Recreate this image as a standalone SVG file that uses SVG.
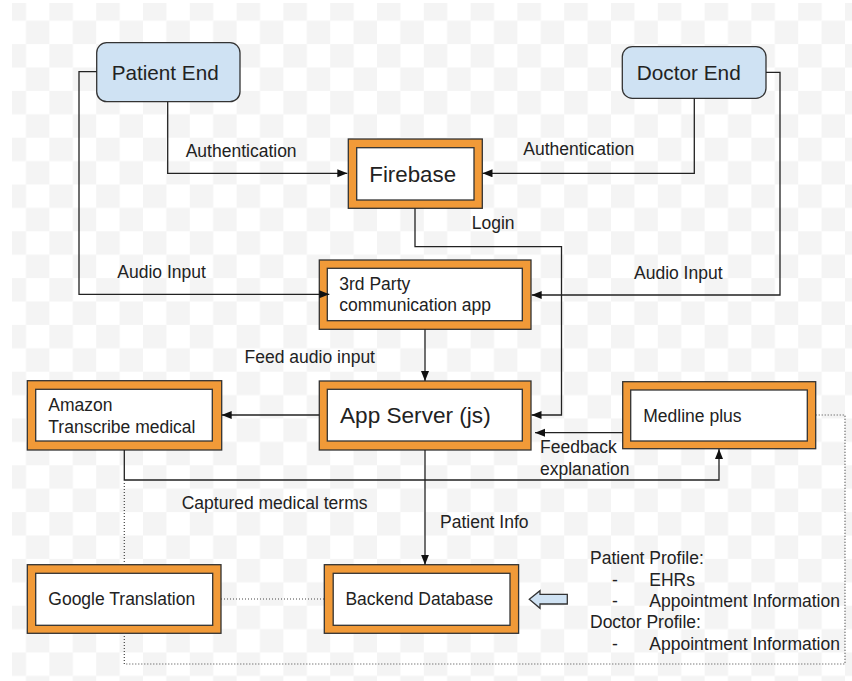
<svg xmlns="http://www.w3.org/2000/svg" width="852" height="681" viewBox="0 0 852 681">
<defs>
<style>
text{font-family:"Liberation Sans",Arial,sans-serif;fill:#222;}
.lbl{font-size:17.5px;}
.ob{fill:#f19a38;stroke:#333;stroke-width:1.3;}
.ib{fill:#fff;stroke:#333;stroke-width:1.3;}
.rb{fill:#cfe2f3;stroke:#333;stroke-width:1.3;}
.c{fill:none;stroke:#222;stroke-width:1.3;}
.d{fill:none;stroke:#444;stroke-width:1.2;stroke-dasharray:1 2;}
</style>
<pattern id="chk" patternUnits="userSpaceOnUse" x="2.6" y="-2.7" width="46.8" height="46.8">
<rect x="0" y="0" width="46.8" height="46.8" fill="#fff"/>
<rect x="0" y="0" width="23.4" height="23.4" fill="#f4f4f4"/>
<rect x="23.4" y="23.4" width="23.4" height="23.4" fill="#f4f4f4"/>
</pattern>
<marker id="ah" markerUnits="userSpaceOnUse" markerWidth="11" markerHeight="9" refX="10" refY="4" orient="auto">
<path d="M0,0 L10,4 L0,8 z" fill="#111"/>
</marker>
</defs>
<rect x="0" y="0" width="852" height="681" fill="#fff"/>
<rect x="12" y="3" width="840" height="678" fill="url(#chk)"/>

<g id="patient-end">
<rect class="rb" x="96.7" y="42.7" width="143.3" height="59" rx="10"/>
<text x="111.7" y="80" font-size="20.7">Patient End</text>
</g>
<g id="doctor-end">
<rect class="rb" x="622.3" y="46.7" width="143.7" height="51.6" rx="10"/>
<text x="636.7" y="80" font-size="20.8">Doctor End</text>
</g>
<g id="firebase">
<rect class="ob" x="348.3" y="139" width="134" height="69.3"/>
<rect class="ib" x="356.7" y="147.7" width="117.3" height="52.3"/>
<text x="369.3" y="182.3" font-size="22.3">Firebase</text>
</g>
<g id="third-party-app">
<rect class="ob" x="319.3" y="260" width="211.7" height="69.3"/>
<rect class="ib" x="327.3" y="268.3" width="195" height="52.4"/>
<text class="lbl" x="339.3" y="290">3rd Party</text>
<text class="lbl" x="339.3" y="310.7">communication app</text>
</g>
<g id="app-server">
<rect class="ob" x="319.3" y="381" width="211.7" height="69"/>
<rect class="ib" x="327.3" y="389.3" width="195" height="51.7"/>
<text x="340" y="423.3" font-size="22.6">App Server (js)</text>
</g>
<g id="amazon-transcribe">
<rect class="ob" x="27.3" y="380.7" width="194.4" height="69.3"/>
<rect class="ib" x="35.7" y="389.3" width="176.6" height="51.7"/>
<text class="lbl" x="48.3" y="410.7">Amazon</text>
<text class="lbl" x="48.3" y="432.7">Transcribe medical</text>
</g>
<g id="medline-plus">
<rect class="ob" x="622.7" y="381.7" width="193" height="67"/>
<rect class="ib" x="630.7" y="390" width="176.6" height="51"/>
<text class="lbl" x="643.3" y="421.7">Medline plus</text>
</g>
<g id="google-translation">
<rect class="ob" x="27.3" y="564.7" width="193.7" height="68.6"/>
<rect class="ib" x="35.7" y="573.3" width="177" height="52"/>
<text class="lbl" x="48.3" y="605">Google Translation</text>
</g>
<g id="backend-database">
<rect class="ob" x="324.3" y="564.7" width="194.3" height="68.6"/>
<rect class="ib" x="333.2" y="573.3" width="176.8" height="52"/>
<text class="lbl" x="345.4" y="605">Backend Database</text>
</g>
<g id="profile-arrow">
<polygon class="rb" points="529.3,599.3 540,590.7 540,594.3 567.3,594.3 567.3,604 540,604 540,608.3"/>
</g>
<g id="profile-notes">
<text class="lbl" x="590" y="564.3">Patient Profile:</text>
<text class="lbl" x="612" y="585.7">-</text>
<text class="lbl" x="649.3" y="585.7">EHRs</text>
<text class="lbl" x="612" y="607.3">-</text>
<text class="lbl" x="649.3" y="607.3">Appointment Information</text>
<text class="lbl" x="590" y="628.3">Doctor Profile:</text>
<text class="lbl" x="612" y="650">-</text>
<text class="lbl" x="649.3" y="650">Appointment Information</text>
</g>

<g id="connectors">
<path class="c" d="M167.7,101.7 V173.3 H347.3" marker-end="url(#ah)"/>
<path class="c" d="M694.3,98.3 V173.3 H482.5" marker-end="url(#ah)"/>
<path class="c" d="M96.7,71.7 H79 V294.3 H329.3" marker-end="url(#ah)"/>
<path class="c" d="M766,72.3 H780 V295 H531.7" marker-end="url(#ah)"/>
<path class="c" d="M415,208.3 V246.7 H561.5 V415 H531.5" marker-end="url(#ah)"/>
<path class="c" d="M425,329.3 V381" marker-end="url(#ah)"/>
<path class="c" d="M319.3,415 H221.7" marker-end="url(#ah)"/>
<path class="c" d="M622.7,432.7 H535" marker-end="url(#ah)"/>
<path class="c" d="M124.3,450 V480 H719 V449" marker-end="url(#ah)"/>
<path class="c" d="M425,450 V564.7" marker-end="url(#ah)"/>
<path class="d" d="M124.3,483 V564.7"/>
<path class="d" d="M221,599 H324.3"/>
<path class="d" d="M815.7,415 H845 V664 H124.3 V633.3"/>
<text class="lbl" x="185.7" y="156.7">Authentication</text>
<text class="lbl" x="523.3" y="155">Authentication</text>
<text class="lbl" x="471.7" y="229.3">Login</text>
<text class="lbl" x="117.3" y="278.3">Audio Input</text>
<text class="lbl" x="634" y="279">Audio Input</text>
<text class="lbl" x="244.6" y="363">Feed audio input</text>
<text class="lbl" x="540" y="453">Feedback</text>
<text class="lbl" x="540" y="475">explanation</text>
<text class="lbl" x="181.7" y="509.3">Captured medical terms</text>
<text class="lbl" x="440" y="528.3">Patient Info</text>
</g>
</svg>
